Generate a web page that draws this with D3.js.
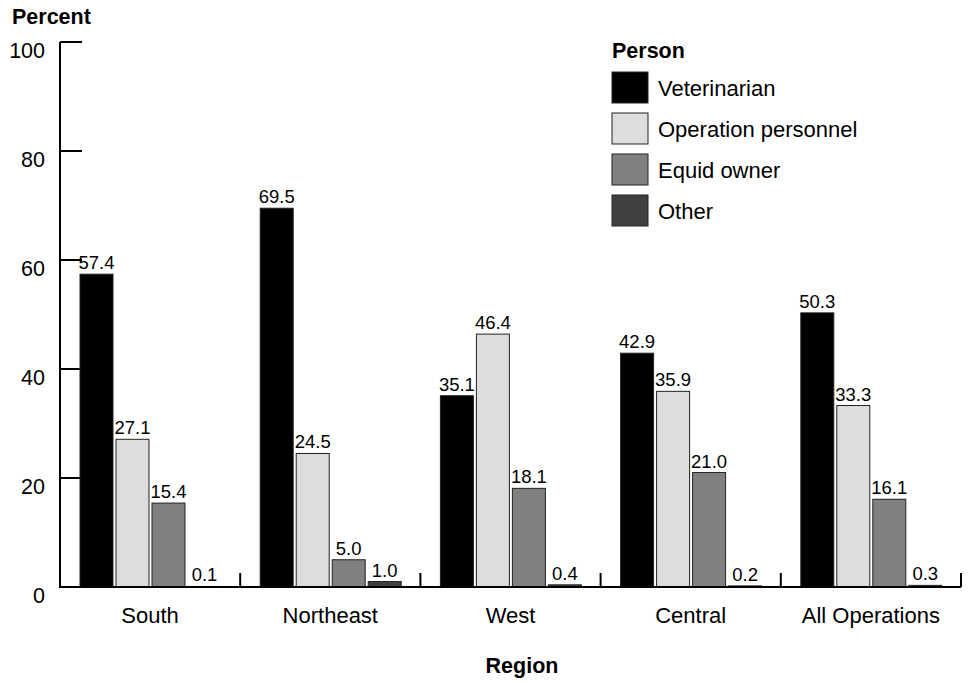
<!DOCTYPE html>
<html>
<head>
<meta charset="utf-8">
<script src="https://cdn.jsdelivr.net/npm/d3@7"></script>
<style>
  body { margin: 0; background: #fff; }
  text { font-family: "Liberation Sans", Arial, sans-serif; fill: #000; }
</style>
</head>
<body>
<script>
// chart data
const regions = ['South', 'Northeast', 'West', 'Central', 'All Operations'];
const persons = ['Veterinarian', 'Operation personnel', 'Equid owner', 'Other'];
const veterinarian = [57.4, 69.5, 35.1, 42.9, 50.3];
const operationPersonnel = [27.1, 24.5, 46.4, 35.9, 33.3];
const equidOwner = [15.4, 5.0, 18.1, 21.0, 16.1];
const other = [0.1, 1.0, 0.4, 0.2, 0.3];
const yTicks = [0, 20, 40, 60, 80, 100];

const series = [veterinarian, operationPersonnel, equidOwner, other];
const fills = ['#000000', '#dddddd', '#808080', '#404040'];

function draw() {
  const width = 971;
  const height = 683;

  const svg = d3.select('body').append('svg')
      .attr('width', width)
      .attr('height', height);

  const x0 = d3.scaleBand()
      .domain(regions)
      .range([60, 961]);

  const x1 = d3.scaleBand()
      .domain(persons)
      .range([20, 161])
      .paddingInner(3 / 36);

  const y = d3.scaleLinear()
      .domain([0, 100])
      .range([587, 42]);

  const color = d3.scaleOrdinal().domain(persons).range(fills);

  const rows = [];
  regions.forEach((r, i) => {
    persons.forEach((p, j) => {
      rows.push({ region: r, person: p, value: series[j][i] });
    });
  });

  // y axis ticks (pointing inward)
  const yAxis = svg.append('g');
  yAxis.selectAll('line.tick')
    .data(yTicks)
    .join('line')
      .attr('class', 'tick')
      .attr('x1', 60)
      .attr('x2', 82)
      .attr('y1', d => y(d))
      .attr('y2', d => y(d))
      .attr('stroke', '#000')
      .attr('stroke-width', 2);

  yAxis.selectAll('text')
    .data(yTicks)
    .join('text')
      .attr('x', 45)
      .attr('y', d => y(d) + 16)
      .attr('text-anchor', 'end')
      .style('font-size', '21.5px')
      .text(d => d);

  // bars
  const bars = svg.append('g');
  bars.selectAll('rect')
    .data(rows)
    .join('rect')
      .attr('x', d => x0(d.region) + x1(d.person))
      .attr('y', d => y(d.value))
      .attr('width', x1.bandwidth())
      .attr('height', d => y(0) - y(d.value))
      .attr('fill', d => color(d.person))
      .attr('stroke', '#222')
      .attr('stroke-width', 1);

  bars.selectAll('text')
    .data(rows)
    .join('text')
      .attr('x', d => x0(d.region) + x1(d.person) + x1.bandwidth() / 2)
      .attr('y', d => y(d.value) - 5)
      .attr('text-anchor', 'middle')
      .style('font-size', '18.5px')
      .text(d => d.value.toFixed(1));

  // axis lines
  svg.append('line')
      .attr('x1', 60).attr('x2', 60)
      .attr('y1', y(100)).attr('y2', y(0) + 1)
      .attr('stroke', '#000').attr('stroke-width', 2);

  svg.append('line')
      .attr('x1', 59).attr('x2', 961)
      .attr('y1', y(0)).attr('y2', y(0))
      .attr('stroke', '#000').attr('stroke-width', 2);

  // group separators
  svg.append('g').selectAll('line')
    .data(regions)
    .join('line')
      .attr('x1', d => x0(d) + x0.bandwidth())
      .attr('x2', d => x0(d) + x0.bandwidth())
      .attr('y1', y(0) - 14)
      .attr('y2', y(0))
      .attr('stroke', '#000')
      .attr('stroke-width', 2);

  // x labels
  svg.append('g').selectAll('text')
    .data(regions)
    .join('text')
      .attr('x', d => x0(d) + x0.bandwidth() / 2)
      .attr('y', 623)
      .attr('text-anchor', 'middle')
      .style('font-size', '22px')
      .text(d => d);

  // axis titles
  svg.append('text')
      .attr('x', 12)
      .attr('y', 24)
      .style('font-size', '21.5px')
      .style('font-weight', 'bold')
      .text('Percent');

  svg.append('text')
      .attr('x', 522)
      .attr('y', 673)
      .attr('text-anchor', 'middle')
      .style('font-size', '21.5px')
      .style('font-weight', 'bold')
      .text('Region');

  // legend
  const legend = svg.append('g').attr('transform', 'translate(612,0)');
  legend.append('text')
      .attr('x', 0)
      .attr('y', 58)
      .style('font-size', '21.5px')
      .style('font-weight', 'bold')
      .text('Person');

  const item = legend.selectAll('g.item')
    .data(persons)
    .join('g')
      .attr('class', 'item')
      .attr('transform', (d, i) => `translate(0,${72 + i * 41})`);

  item.append('rect')
      .attr('width', 36)
      .attr('height', 31)
      .attr('fill', d => color(d))
      .attr('stroke', '#222')
      .attr('stroke-width', 1);

  item.append('text')
      .attr('x', 46)
      .attr('y', 24)
      .style('font-size', '22px')
      .text(d => d);
}

draw();
</script>
</body>
</html>
